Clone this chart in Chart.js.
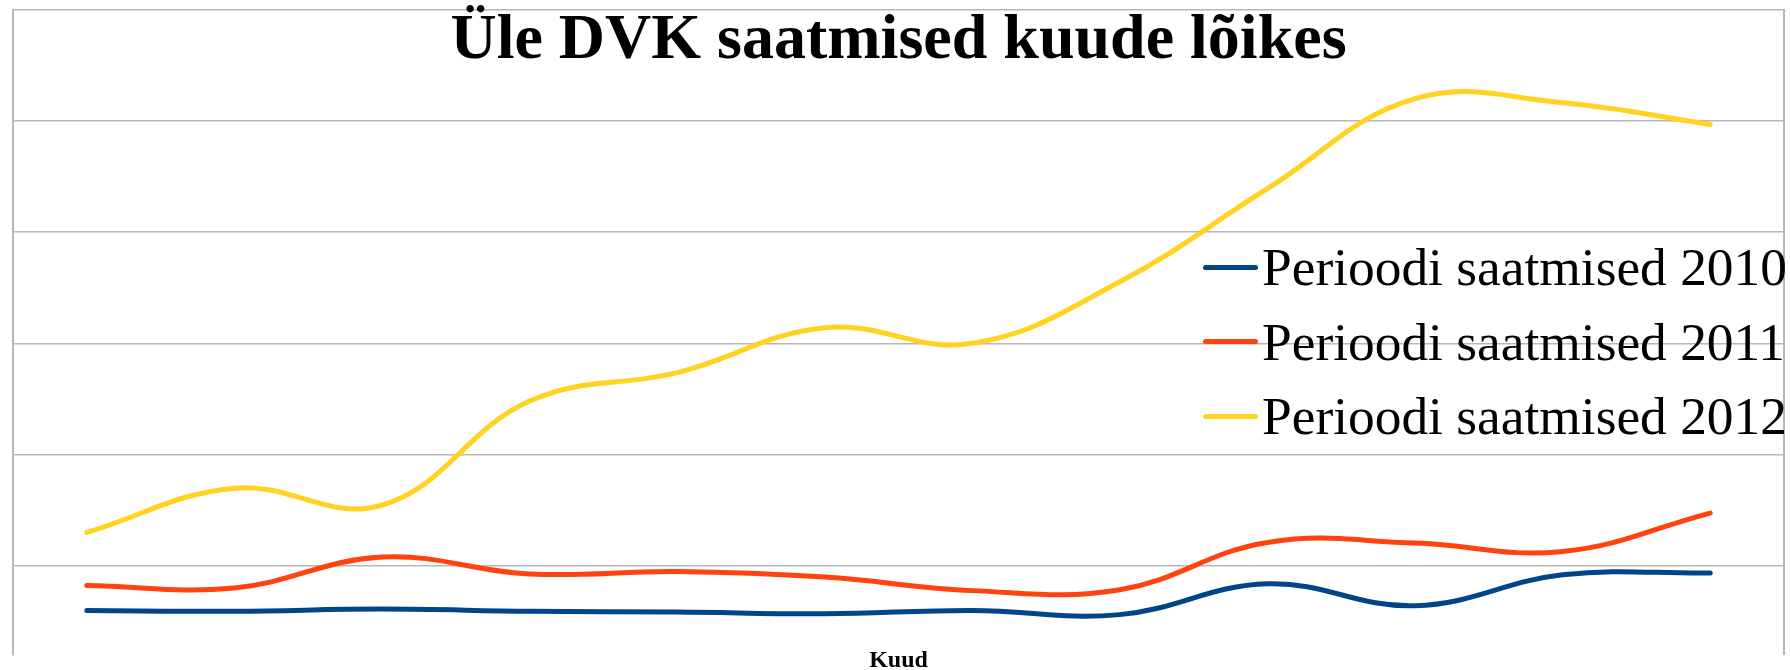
<!DOCTYPE html>
<html>
<head>
<meta charset="utf-8">
<title>Üle DVK saatmised kuude lõikes</title>
<script src="https://cdn.jsdelivr.net/npm/chart.js@4.4.1/dist/chart.umd.min.js"></script>
<style>
  html, body { margin: 0; padding: 0; background: #fff; overflow: hidden; }
  #wrap { position: relative; width: 1790px; height: 670px; }
  #legend {
    position: absolute; left: 1203px; top: 230px;
    font-family: 'Liberation Serif', 'Times New Roman', serif;
    font-size: 53.4px; color: #000; white-space: nowrap;
  }
  .item { display: flex; align-items: center; height: 74.5px; }
  .mark { display: inline-block; width: 55px; height: 5px; border-radius: 3px; margin-right: 4px; }
</style>
</head>
<body>
<div id="wrap">
  <canvas id="chart"></canvas>
  <div id="legend"></div>
</div>
<script>
'use strict';

const months = ['Jaanuar', 'Veebruar', 'Märts', 'Aprill', 'Mai', 'Juuni',
  'Juuli', 'August', 'September', 'Oktoober', 'November', 'Detsember'];
const sent2010 = [2980, 2940, 3040, 2940, 2910, 2830, 2980, 2790, 4180, 3190, 4580, 4660];
const sent2011 = [4100, 3990, 5380, 4620, 4730, 4480, 3870, 3910, 6040, 6010, 5630, 7360];
const sent2012 = [6490, 8480, 7720, 12400, 13680, 15700, 15000, 17770, 21960, 26010, 25830, 24850];
const seriesNames = ['Perioodi saatmised 2010', 'Perioodi saatmised 2011', 'Perioodi saatmised 2012'];
const yTicks = [5000, 10000, 15000, 20000, 25000, 30000];

const colors = ['#004586', '#ff420e', '#ffd320'];
const serif = "'Liberation Serif', 'Times New Roman', serif";
const gridColor = '#b8b8b8';

Chart.defaults.font.family = serif;

function lineSet(label, values, color) {
  return {
    label: label,
    data: values,
    borderColor: color,
    backgroundColor: color,
    borderWidth: 5,
    borderCapStyle: 'round',
    borderJoinStyle: 'round',
    pointRadius: 0,
    tension: 0.4,
    fill: false,
  };
}

const canvasElem = document.getElementById('chart');

const chart = new Chart(canvasElem, {
  type: 'line',
  data: {
    labels: months,
    datasets: [
      lineSet(seriesNames[0], sent2010, colors[0]),
      lineSet(seriesNames[1], sent2011, colors[1]),
      lineSet(seriesNames[2], sent2012, colors[2]),
    ],
  },
  options: {
    responsive: true,
    maintainAspectRatio: false,
    animation: false,
    layout: { padding: { left: 13, right: 6, top: 10, bottom: 0 } },
    plugins: {
      legend: { display: false },
      tooltip: { enabled: false },
      title: {
        display: true,
        text: 'Üle DVK saatmised kuude lõikes',
        color: '#000',
        font: { family: serif, size: 64, weight: 'bold', lineHeight: 1 },
        // drawn over the plot area, takes no layout room
        padding: { top: -1, bottom: -63 },
      },
    },
    scales: {
      x: {
        offset: true,
        grid: { display: false, drawTicks: false },
        border: { display: false },
        ticks: { display: false },
        title: {
          display: true,
          text: 'Kuud',
          color: '#000',
          font: { family: serif, size: 24, weight: 'bold', lineHeight: 0.75 },
          padding: { top: -2.4, bottom: 0 },
        },
      },
      y: {
        min: 1000,
        max: 30000,
        afterBuildTicks: (axis) => { axis.ticks = yTicks.map(v => ({ value: v })); },
        grid: { color: gridColor, lineWidth: 1.5, drawTicks: false },
        border: { display: true, color: gridColor, width: 2 },
        ticks: { display: false },
      },
      y2: {
        position: 'right',
        grid: { display: false, drawTicks: false },
        border: { display: true, color: gridColor, width: 2 },
        ticks: { display: false },
      },
    },
  },
});

// legend drawn in html so it can sit inside the plot area on the right
const legendElem = document.getElementById('legend');
for (let i = 0; i < chart.data.datasets.length; i++) {
  const ds = chart.data.datasets[i];
  const item = document.createElement('div');
  item.className = 'item';
  const mark = document.createElement('span');
  mark.className = 'mark';
  mark.style.background = ds.borderColor;
  const text = document.createElement('span');
  text.textContent = ds.label;
  item.appendChild(mark);
  item.appendChild(text);
  legendElem.appendChild(item);
}
</script>
</body>
</html>
